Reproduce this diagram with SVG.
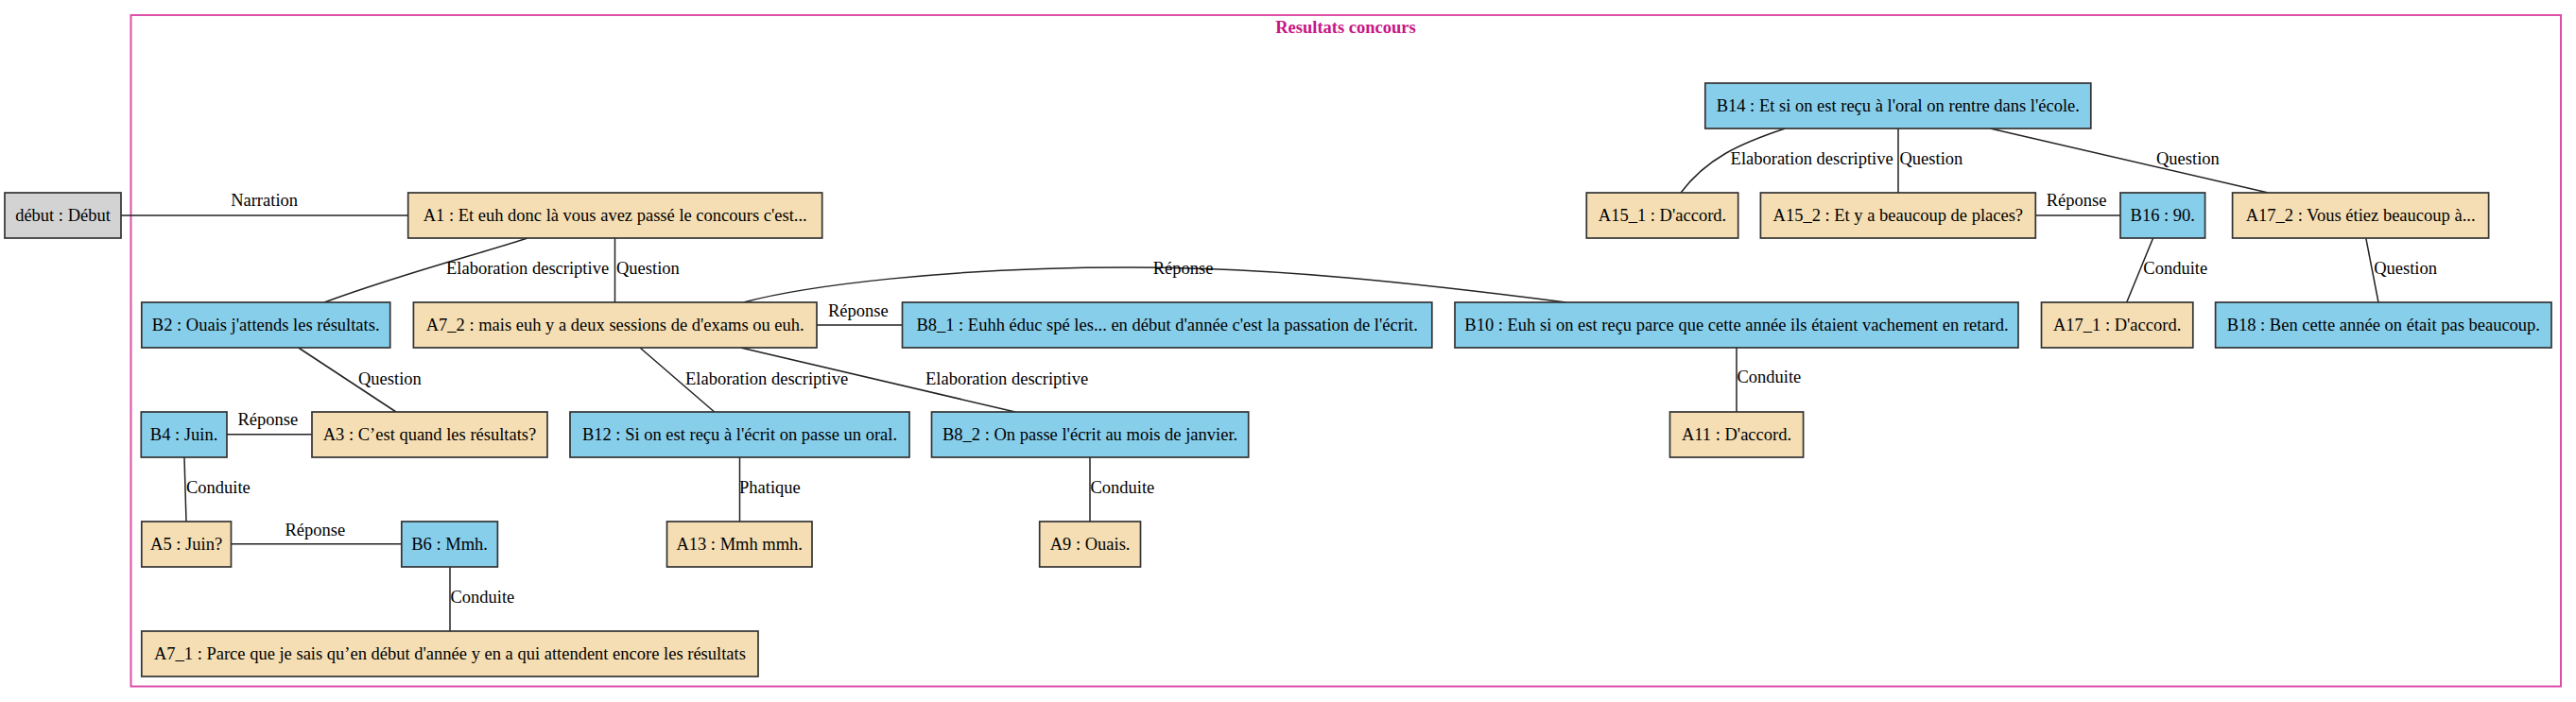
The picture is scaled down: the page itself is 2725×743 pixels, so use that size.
<svg xmlns="http://www.w3.org/2000/svg" width="2725" height="743" viewBox="0 0 2725 743">
<style>
text{font-family:"Liberation Serif","Times New Roman",serif;font-size:18.5px;fill:#000}
.n rect{stroke:#333;stroke-width:1.7}
.n text{text-anchor:middle}
.A rect{fill:#f5deb3}
.B rect{fill:#87ceeb}
.D rect{fill:#d3d3d3}
#edges path{fill:none;stroke:#222;stroke-width:1.5}
.m{text-anchor:middle}
.title{font-weight:bold;fill:#c71585;text-anchor:middle}
</style>
<rect width="2725" height="743" fill="#fff"/>
<g id="cluster">
<rect x="138.5" y="16" width="2570.5" height="710.5" fill="none" stroke="#dd4fa8" stroke-width="2"/>
<text class="title" x="1423.5" y="34.5">Resultats concours</text>
</g>
<g id="edges">
<path d="M128,228 L431.7,228"/>
<text class="m" x="279.6" y="218">Narration</text>
<path d="M558,252 C510,268 430,288 343,320"/>
<text x="472" y="290">Elaboration descriptive</text>
<path d="M650.5,252 L650.5,320"/>
<text x="652" y="290">Question</text>
<path d="M315.7,368 L419,436"/>
<text x="379" y="406.7">Question</text>
<path d="M240,459.7 L330,459.7"/>
<text x="251.4" y="450">Réponse</text>
<path d="M195,484 L197,552"/>
<text x="197" y="521.7">Conduite</text>
<path d="M244.5,575.7 L424.8,575.7"/>
<text x="301.4" y="566.7">Réponse</text>
<path d="M476,600 L476,668"/>
<text x="476.5" y="638">Conduite</text>
<path d="M677,368 L755.7,436"/>
<text x="725" y="406.7">Elaboration descriptive</text>
<path d="M782.5,484 L782.5,552"/>
<text x="782" y="521.7">Phatique</text>
<path d="M864,344 L954.5,344"/>
<text x="876" y="335">Réponse</text>
<path d="M786.5,320 C850,303 1000,283 1194,283 C1350,283 1500,300 1656.6,320"/>
<text class="m" x="1251.5" y="290">Réponse</text>
<path d="M783.6,368 L1074,436"/>
<text x="979" y="406.7">Elaboration descriptive</text>
<path d="M1153,484 L1153,552"/>
<text x="1153.5" y="521.7">Conduite</text>
<path d="M1837,368 L1837,436"/>
<text x="1837.5" y="405">Conduite</text>
<path d="M1888.4,136 C1840,152 1805,168 1778,204"/>
<text x="1830.6" y="174">Elaboration descriptive</text>
<path d="M2008,136 L2008,204"/>
<text x="2009.5" y="174">Question</text>
<path d="M2105.4,136 L2399.4,204"/>
<text x="2281" y="174">Question</text>
<path d="M2153.3,228 L2243,228"/>
<text x="2164.7" y="218">Réponse</text>
<path d="M2277.6,252 L2249.7,320"/>
<text x="2267.3" y="290">Conduite</text>
<path d="M2502.8,252 L2516,320"/>
<text x="2511.2" y="290">Question</text>
</g>
<g id="debut" class="n D"><rect x="5" y="204" width="123" height="48"/><text x="66.5" y="234">début : Début</text></g>
<g id="A1" class="n A"><rect x="431.7" y="204" width="438" height="48"/><text x="650.7" y="234">A1 : Et euh donc là vous avez passé le concours c'est...</text></g>
<g id="B2" class="n B"><rect x="149.8" y="320" width="262.9" height="48"/><text x="281.2" y="350">B2 : Ouais j'attends les résultats.</text></g>
<g id="A7_2" class="n A"><rect x="437.4" y="320" width="426.6" height="48"/><text x="650.7" y="350">A7_2 : mais euh y a deux sessions de d'exams ou euh.</text></g>
<g id="B8_1" class="n B"><rect x="954.5" y="320" width="560.3" height="48"/><text x="1234.6" y="350">B8_1 : Euhh éduc spé les... en début d'année c'est la passation de l'écrit.</text></g>
<g id="B10" class="n B"><rect x="1539" y="320" width="596" height="48"/><text x="1837" y="350">B10 : Euh si on est reçu parce que cette année ils étaient vachement en retard.</text></g>
<g id="A17_1" class="n A"><rect x="2159.5" y="320" width="160.3" height="48"/><text x="2239.6" y="350">A17_1 : D'accord.</text></g>
<g id="B18" class="n B"><rect x="2343.6" y="320" width="355.4" height="48"/><text x="2521.3" y="350">B18 : Ben cette année on était pas beaucoup.</text></g>
<g id="B4" class="n B"><rect x="149.3" y="436" width="90.7" height="48"/><text x="194.6" y="466">B4 : Juin.</text></g>
<g id="A3" class="n A"><rect x="330" y="436" width="249" height="48"/><text x="454.5" y="466">A3 : C’est quand les résultats?</text></g>
<g id="B12" class="n B"><rect x="603" y="436" width="359" height="48"/><text x="782.5" y="466">B12 : Si on est reçu à l'écrit on passe un oral.</text></g>
<g id="B8_2" class="n B"><rect x="985.5" y="436" width="335.2" height="48"/><text x="1153.1" y="466">B8_2 : On passe l'écrit au mois de janvier.</text></g>
<g id="A11" class="n A"><rect x="1766.5" y="436" width="141.1" height="48"/><text x="1837" y="466">A11 : D'accord.</text></g>
<g id="A5" class="n A"><rect x="149.8" y="552" width="94.7" height="48"/><text x="197.1" y="582">A5 : Juin?</text></g>
<g id="B6" class="n B"><rect x="424.8" y="552" width="101.6" height="48"/><text x="475.6" y="582">B6 : Mmh.</text></g>
<g id="A13" class="n A"><rect x="705.5" y="552" width="153.5" height="48"/><text x="782.2" y="582">A13 : Mmh mmh.</text></g>
<g id="A9" class="n A"><rect x="1099.7" y="552" width="106.8" height="48"/><text x="1153.1" y="582">A9 : Ouais.</text></g>
<g id="A7_1" class="n A"><rect x="149.8" y="668" width="652.2" height="48"/><text x="475.9" y="698">A7_1 : Parce que je sais qu’en début d'année y en a qui attendent encore les résultats</text></g>
<g id="B14" class="n B"><rect x="1803.8" y="88" width="408" height="48"/><text x="2007.8" y="118">B14 : Et si on est reçu à l'oral on rentre dans l'école.</text></g>
<g id="A15_1" class="n A"><rect x="1678.3" y="204" width="160.4" height="48"/><text x="1758.5" y="234">A15_1 : D'accord.</text></g>
<g id="A15_2" class="n A"><rect x="1862.4" y="204" width="290.9" height="48"/><text x="2007.8" y="234">A15_2 : Et y a beaucoup de places?</text></g>
<g id="B16" class="n B"><rect x="2243" y="204" width="89.6" height="48"/><text x="2287.8" y="234">B16 : 90.</text></g>
<g id="A17_2" class="n A"><rect x="2361.6" y="204" width="271" height="48"/><text x="2497.1" y="234">A17_2 : Vous étiez beaucoup à...</text></g>
</svg>
